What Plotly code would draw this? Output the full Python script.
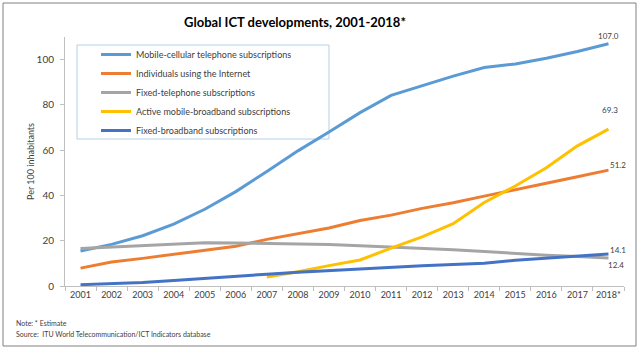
import plotly.graph_objects as go

years = ["2001", "2002", "2003", "2004", "2005", "2006", "2007", "2008", "2009",
         "2010", "2011", "2012", "2013", "2014", "2015", "2016", "2017", "2018*"]
mobile_cellular = [15.5, 18.4, 22.2, 27.3, 33.9, 41.7, 50.6, 59.7, 68.0,
                   76.6, 84.2, 88.5, 92.7, 96.5, 98.1, 100.6, 103.6, 107.0]
internet = [7.9, 10.6, 12.2, 14.0, 15.8, 17.6, 20.6, 23.1, 25.6,
            28.9, 31.3, 34.3, 36.8, 39.7, 42.4, 45.4, 48.3, 51.2]
fixed_telephone = [16.6, 17.2, 17.7, 18.6, 19.1, 19.0, 18.8, 18.5, 18.3,
                   17.8, 17.3, 16.6, 16.0, 15.2, 14.3, 13.6, 13.0, 12.4]
mobile_broadband = [None, None, None, None, None, None, 4.0, 6.3, 9.0,
                    11.5, 16.7, 21.7, 27.5, 36.9, 44.2, 52.2, 61.9, 69.3]
fixed_broadband = [0.6, 1.0, 1.5, 2.4, 3.4, 4.5, 5.2, 6.1, 6.9,
                   7.6, 8.5, 9.0, 9.5, 10.0, 11.4, 12.4, 13.1, 14.1]

series = [
    ("Mobile-cellular telephone subscriptions", mobile_cellular, "#5B9BD5"),
    ("Individuals using the Internet", internet, "#ED7D31"),
    ("Fixed-telephone subscriptions", fixed_telephone, "#A5A5A5"),
    ("Active mobile-broadband subscriptions", mobile_broadband, "#FFC000"),
    ("Fixed-broadband subscriptions", fixed_broadband, "#4472C4"),
]

FONT = "Lato"
fig = go.Figure()
for name, vals, col in series:
    fig.add_trace(go.Scatter(x=years, y=vals, mode="lines", name=name,
                             line=dict(color=col, width=3), connectgaps=False))

# End-value labels
end_labels = [
    (mobile_cellular[-1], 0, 8),
    (mobile_broadband[-1], 2, 19),
    (internet[-1], 10, 5),
    (fixed_broadband[-1], 10, 4),
    (fixed_telephone[-1], 8, -7),
]
for val, xs, ys in end_labels:
    fig.add_annotation(x=years[-1], y=val, text=f"{val:.1f}", showarrow=False,
                       xshift=xs, yshift=ys, font=dict(size=8, color="#404040", family=FONT))

W, H = 640, 352
L, R, T, B = 65, 16, 37, 66
pw, ph = W - L - R, H - T - B

def px(x):
    return (x - L) / pw

def py(y):
    return (H - B - y) / ph

# outer frame
fig.add_shape(type="rect", xref="paper", yref="paper", x0=px(3), x1=px(636), y0=py(346), y1=py(3),
              line=dict(color="#808080", width=1))
# legend box
fig.add_shape(type="rect", xref="paper", yref="paper", x0=px(77), x1=px(329), y0=py(139), y1=py(45),
              line=dict(color="#B4D0E6", width=1), layer="below")

fig.add_annotation(xref="paper", yref="paper", x=px(14), y=py(323), xanchor="left", yanchor="middle",
                   text="Note: * Estimate", showarrow=False, font=dict(size=7, color="#404040", family=FONT))
fig.add_annotation(xref="paper", yref="paper", x=px(14), y=py(334), xanchor="left", yanchor="middle",
                   text="Source:  ITU World Telecommunication/ICT Indicators database", showarrow=False,
                   font=dict(size=7, color="#404040", family=FONT))

fig.update_layout(
    width=W, height=H,
    margin=dict(l=L, r=R, t=T, b=B),
    paper_bgcolor="white", plot_bgcolor="white",
    font=dict(family=FONT, color="#404040", size=9),
    title=dict(text="<b>Global ICT developments, 2001-2018*</b>", x=295 / W, y=1 - 22 / H,
               xanchor="center", yanchor="middle", font=dict(size=13, color="#000000", family=FONT)),
    showlegend=True,
    legend=dict(x=px(96), y=py(40), xanchor="left", yanchor="top", bgcolor="rgba(0,0,0,0)",
                font=dict(size=9, color="#404040", family=FONT), borderwidth=0),
    xaxis=dict(type="category", showgrid=False, showline=True, linecolor="#BFBFBF", linewidth=1,
               ticks="outside", tickson="boundaries", ticklen=4, tickcolor="#BFBFBF", tickangle=0,
               tickfont=dict(size=9, color="#404040"), range=[-0.5, 17.5]),
    yaxis=dict(range=[0, 110], showgrid=False, zeroline=False, showline=True, linecolor="#BFBFBF",
               linewidth=1, ticks="outside", ticklen=4, tickcolor="#BFBFBF",
               tickvals=[0, 20, 40, 60, 80, 100], tickfont=dict(size=10, color="#404040"),
               ticklabelstandoff=4,
               title=dict(text="Per 100 inhabitants", font=dict(size=9, color="#404040"), standoff=0)),
)

fig.write_html("out.html")
